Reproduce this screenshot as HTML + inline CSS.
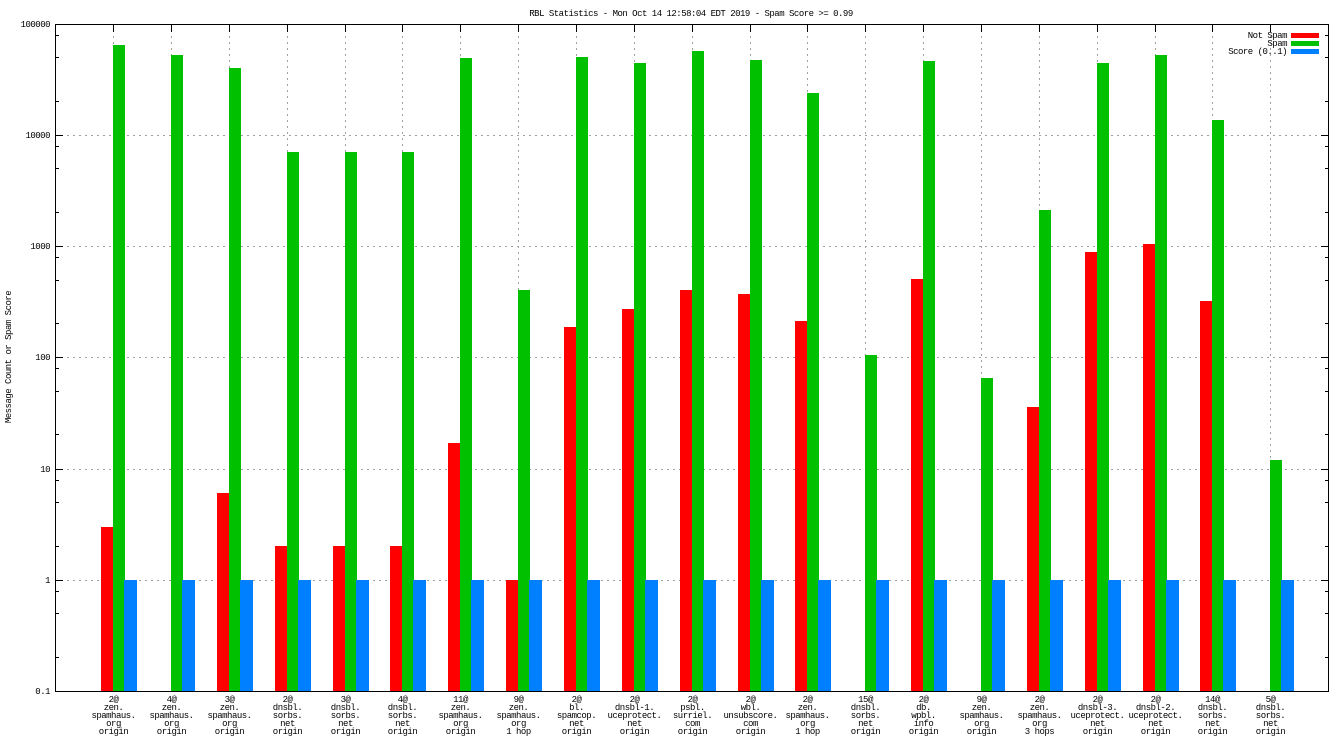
<!DOCTYPE html>
<html>
<head>
<meta charset="utf-8">
<style>
html,body{margin:0;padding:0;background:#fff;}
svg{display:block;}
text{font-family:"Liberation Mono",monospace;font-size:9px;font-weight:normal;letter-spacing:-0.5px;fill:#000;}
</style>
</head>
<body>
<svg width="1344" height="756" viewBox="0 0 1344 756" xmlns="http://www.w3.org/2000/svg">
<rect x="0" y="0" width="1344" height="756" fill="#fff"/>
<!-- title -->
<text x="691" y="16" text-anchor="middle">RBL Statistics - Mon Oct 14 12:58:04 EDT 2019 - Spam Score &gt;= 0.99</text>
<!-- y label -->
<text transform="translate(11,357) rotate(-90)" text-anchor="middle">Message Count or Spam Score</text>

<!-- grid -->
<g stroke="#a0a0a0" stroke-width="1" stroke-dasharray="2 4" fill="none">
<path d="M55 135.5H1328M55 246.5H1328M55 357.5H1328M55 469.5H1328M55 580.5H1328"/>
<path d="M113.5 24V691M171.5 24V691M229.5 24V691M287.5 24V691M345.5 24V691M402.5 24V691M460.5 24V691M518.5 24V691M576.5 24V691M634.5 24V691M692.5 24V691M750.5 24V691M807.5 24V691M865.5 24V691M923.5 24V691M981.5 24V691M1039.5 24V691M1097.5 24V691M1155.5 24V691M1212.5 24V691M1270.5 24V691"/>
</g>

<!-- bars -->
<g transform="translate(113,0)"><rect x="-12" y="527" width="12" height="164" fill="#ff0000"/><rect x="0" y="45" width="12" height="646" fill="#00c000"/><rect x="11" y="580" width="13" height="111" fill="#0080ff"/></g>
<g transform="translate(171,0)"><rect x="0" y="55" width="12" height="636" fill="#00c000"/><rect x="11" y="580" width="13" height="111" fill="#0080ff"/></g>
<g transform="translate(229,0)"><rect x="-12" y="493" width="12" height="198" fill="#ff0000"/><rect x="0" y="68" width="12" height="623" fill="#00c000"/><rect x="11" y="580" width="13" height="111" fill="#0080ff"/></g>
<g transform="translate(287,0)"><rect x="-12" y="546" width="12" height="145" fill="#ff0000"/><rect x="0" y="152" width="12" height="539" fill="#00c000"/><rect x="11" y="580" width="13" height="111" fill="#0080ff"/></g>
<g transform="translate(345,0)"><rect x="-12" y="546" width="12" height="145" fill="#ff0000"/><rect x="0" y="152" width="12" height="539" fill="#00c000"/><rect x="11" y="580" width="13" height="111" fill="#0080ff"/></g>
<g transform="translate(402,0)"><rect x="-12" y="546" width="12" height="145" fill="#ff0000"/><rect x="0" y="152" width="12" height="539" fill="#00c000"/><rect x="11" y="580" width="13" height="111" fill="#0080ff"/></g>
<g transform="translate(460,0)"><rect x="-12" y="443" width="12" height="248" fill="#ff0000"/><rect x="0" y="58" width="12" height="633" fill="#00c000"/><rect x="11" y="580" width="13" height="111" fill="#0080ff"/></g>
<g transform="translate(518,0)"><rect x="-12" y="580" width="12" height="111" fill="#ff0000"/><rect x="0" y="290" width="12" height="401" fill="#00c000"/><rect x="11" y="580" width="13" height="111" fill="#0080ff"/></g>
<g transform="translate(576,0)"><rect x="-12" y="327" width="12" height="364" fill="#ff0000"/><rect x="0" y="57" width="12" height="634" fill="#00c000"/><rect x="11" y="580" width="13" height="111" fill="#0080ff"/></g>
<g transform="translate(634,0)"><rect x="-12" y="309" width="12" height="382" fill="#ff0000"/><rect x="0" y="63" width="12" height="628" fill="#00c000"/><rect x="11" y="580" width="13" height="111" fill="#0080ff"/></g>
<g transform="translate(692,0)"><rect x="-12" y="290" width="12" height="401" fill="#ff0000"/><rect x="0" y="51" width="12" height="640" fill="#00c000"/><rect x="11" y="580" width="13" height="111" fill="#0080ff"/></g>
<g transform="translate(750,0)"><rect x="-12" y="294" width="12" height="397" fill="#ff0000"/><rect x="0" y="60" width="12" height="631" fill="#00c000"/><rect x="11" y="580" width="13" height="111" fill="#0080ff"/></g>
<g transform="translate(807,0)"><rect x="-12" y="321" width="12" height="370" fill="#ff0000"/><rect x="0" y="93" width="12" height="598" fill="#00c000"/><rect x="11" y="580" width="13" height="111" fill="#0080ff"/></g>
<g transform="translate(865,0)"><rect x="0" y="355" width="12" height="336" fill="#00c000"/><rect x="11" y="580" width="13" height="111" fill="#0080ff"/></g>
<g transform="translate(923,0)"><rect x="-12" y="279" width="12" height="412" fill="#ff0000"/><rect x="0" y="61" width="12" height="630" fill="#00c000"/><rect x="11" y="580" width="13" height="111" fill="#0080ff"/></g>
<g transform="translate(981,0)"><rect x="0" y="378" width="12" height="313" fill="#00c000"/><rect x="11" y="580" width="13" height="111" fill="#0080ff"/></g>
<g transform="translate(1039,0)"><rect x="-12" y="407" width="12" height="284" fill="#ff0000"/><rect x="0" y="210" width="12" height="481" fill="#00c000"/><rect x="11" y="580" width="13" height="111" fill="#0080ff"/></g>
<g transform="translate(1097,0)"><rect x="-12" y="252" width="12" height="439" fill="#ff0000"/><rect x="0" y="63" width="12" height="628" fill="#00c000"/><rect x="11" y="580" width="13" height="111" fill="#0080ff"/></g>
<g transform="translate(1155,0)"><rect x="-12" y="244" width="12" height="447" fill="#ff0000"/><rect x="0" y="55" width="12" height="636" fill="#00c000"/><rect x="11" y="580" width="13" height="111" fill="#0080ff"/></g>
<g transform="translate(1212,0)"><rect x="-12" y="301" width="12" height="390" fill="#ff0000"/><rect x="0" y="120" width="12" height="571" fill="#00c000"/><rect x="11" y="580" width="13" height="111" fill="#0080ff"/></g>
<g transform="translate(1270,0)"><rect x="0" y="460" width="12" height="231" fill="#00c000"/><rect x="11" y="580" width="13" height="111" fill="#0080ff"/></g>

<!-- axes border and ticks -->
<g stroke="#000" stroke-width="1" fill="none">
<rect x="55.5" y="24.5" width="1273" height="667"/>
<path d="M55 135.5h8M55 246.5h8M55 357.5h8M55 469.5h8M55 580.5h8"/>
<path d="M1329 135.5h-8M1329 246.5h-8M1329 357.5h-8M1329 469.5h-8M1329 580.5h-8"/>
<path d="M55 35.5h4M55 57.5h4M55 101.5h4M55 146.5h4M55 168.5h4M55 212.5h4M55 257.5h4M55 280.5h4M55 323.5h4M55 368.5h4M55 391.5h4M55 434.5h4M55 480.5h4M55 502.5h4M55 546.5h4M55 591.5h4M55 613.5h4M55 657.5h4"/>
<path d="M1329 35.5h-4M1329 57.5h-4M1329 101.5h-4M1329 146.5h-4M1329 168.5h-4M1329 212.5h-4M1329 257.5h-4M1329 280.5h-4M1329 323.5h-4M1329 368.5h-4M1329 391.5h-4M1329 434.5h-4M1329 480.5h-4M1329 502.5h-4M1329 546.5h-4M1329 591.5h-4M1329 613.5h-4M1329 657.5h-4"/>
<path d="M113.5 24v8M171.5 24v8M229.5 24v8M287.5 24v8M345.5 24v8M402.5 24v8M460.5 24v8M518.5 24v8M576.5 24v8M634.5 24v8M692.5 24v8M750.5 24v8M807.5 24v8M865.5 24v8M923.5 24v8M981.5 24v8M1039.5 24v8M1097.5 24v8M1155.5 24v8M1212.5 24v8M1270.5 24v8"/>
</g>

<!-- y tick labels -->
<g text-anchor="end">
<text x="50" y="27">100000</text>
<text x="50" y="138">10000</text>
<text x="50" y="249">1000</text>
<text x="50" y="360">100</text>
<text x="50" y="472">10</text>
<text x="50" y="583">1</text>
<text x="50" y="694">0.1</text>
</g>

<!-- legend -->
<g text-anchor="end">
<text x="1287" y="38">Not Spam</text>
<text x="1287" y="46">Spam</text>
<text x="1287" y="54">Score (0..1)</text>
</g>
<rect x="1291" y="33" width="28" height="5" fill="#ff0000"/>
<rect x="1291" y="41" width="28" height="5" fill="#00c000"/>
<rect x="1291" y="49" width="28" height="5" fill="#0080ff"/>

<!-- x labels -->
<g text-anchor="middle">
<text x="113.5" y="702"><tspan x="113.5" dy="0">2@</tspan><tspan x="113.5" dy="8">zen.</tspan><tspan x="113.5" dy="8">spamhaus.</tspan><tspan x="113.5" dy="8">org</tspan><tspan x="113.5" dy="8">origin</tspan></text>
<text x="171.5" y="702"><tspan x="171.5" dy="0">4@</tspan><tspan x="171.5" dy="8">zen.</tspan><tspan x="171.5" dy="8">spamhaus.</tspan><tspan x="171.5" dy="8">org</tspan><tspan x="171.5" dy="8">origin</tspan></text>
<text x="229.5" y="702"><tspan x="229.5" dy="0">3@</tspan><tspan x="229.5" dy="8">zen.</tspan><tspan x="229.5" dy="8">spamhaus.</tspan><tspan x="229.5" dy="8">org</tspan><tspan x="229.5" dy="8">origin</tspan></text>
<text x="287.5" y="702"><tspan x="287.5" dy="0">2@</tspan><tspan x="287.5" dy="8">dnsbl.</tspan><tspan x="287.5" dy="8">sorbs.</tspan><tspan x="287.5" dy="8">net</tspan><tspan x="287.5" dy="8">origin</tspan></text>
<text x="345.5" y="702"><tspan x="345.5" dy="0">3@</tspan><tspan x="345.5" dy="8">dnsbl.</tspan><tspan x="345.5" dy="8">sorbs.</tspan><tspan x="345.5" dy="8">net</tspan><tspan x="345.5" dy="8">origin</tspan></text>
<text x="402.5" y="702"><tspan x="402.5" dy="0">4@</tspan><tspan x="402.5" dy="8">dnsbl.</tspan><tspan x="402.5" dy="8">sorbs.</tspan><tspan x="402.5" dy="8">net</tspan><tspan x="402.5" dy="8">origin</tspan></text>
<text x="460.5" y="702"><tspan x="460.5" dy="0">11@</tspan><tspan x="460.5" dy="8">zen.</tspan><tspan x="460.5" dy="8">spamhaus.</tspan><tspan x="460.5" dy="8">org</tspan><tspan x="460.5" dy="8">origin</tspan></text>
<text x="518.5" y="702"><tspan x="518.5" dy="0">9@</tspan><tspan x="518.5" dy="8">zen.</tspan><tspan x="518.5" dy="8">spamhaus.</tspan><tspan x="518.5" dy="8">org</tspan><tspan x="518.5" dy="8">1 hop</tspan></text>
<text x="576.5" y="702"><tspan x="576.5" dy="0">2@</tspan><tspan x="576.5" dy="8">bl.</tspan><tspan x="576.5" dy="8">spamcop.</tspan><tspan x="576.5" dy="8">net</tspan><tspan x="576.5" dy="8">origin</tspan></text>
<text x="634.5" y="702"><tspan x="634.5" dy="0">2@</tspan><tspan x="634.5" dy="8">dnsbl-1.</tspan><tspan x="634.5" dy="8">uceprotect.</tspan><tspan x="634.5" dy="8">net</tspan><tspan x="634.5" dy="8">origin</tspan></text>
<text x="692.5" y="702"><tspan x="692.5" dy="0">2@</tspan><tspan x="692.5" dy="8">psbl.</tspan><tspan x="692.5" dy="8">surriel.</tspan><tspan x="692.5" dy="8">com</tspan><tspan x="692.5" dy="8">origin</tspan></text>
<text x="750.5" y="702"><tspan x="750.5" dy="0">2@</tspan><tspan x="750.5" dy="8">wbl.</tspan><tspan x="750.5" dy="8">unsubscore.</tspan><tspan x="750.5" dy="8">com</tspan><tspan x="750.5" dy="8">origin</tspan></text>
<text x="807.5" y="702"><tspan x="807.5" dy="0">2@</tspan><tspan x="807.5" dy="8">zen.</tspan><tspan x="807.5" dy="8">spamhaus.</tspan><tspan x="807.5" dy="8">org</tspan><tspan x="807.5" dy="8">1 hop</tspan></text>
<text x="865.5" y="702"><tspan x="865.5" dy="0">15@</tspan><tspan x="865.5" dy="8">dnsbl.</tspan><tspan x="865.5" dy="8">sorbs.</tspan><tspan x="865.5" dy="8">net</tspan><tspan x="865.5" dy="8">origin</tspan></text>
<text x="923.5" y="702"><tspan x="923.5" dy="0">2@</tspan><tspan x="923.5" dy="8">db.</tspan><tspan x="923.5" dy="8">wpbl.</tspan><tspan x="923.5" dy="8">info</tspan><tspan x="923.5" dy="8">origin</tspan></text>
<text x="981.5" y="702"><tspan x="981.5" dy="0">9@</tspan><tspan x="981.5" dy="8">zen.</tspan><tspan x="981.5" dy="8">spamhaus.</tspan><tspan x="981.5" dy="8">org</tspan><tspan x="981.5" dy="8">origin</tspan></text>
<text x="1039.5" y="702"><tspan x="1039.5" dy="0">2@</tspan><tspan x="1039.5" dy="8">zen.</tspan><tspan x="1039.5" dy="8">spamhaus.</tspan><tspan x="1039.5" dy="8">org</tspan><tspan x="1039.5" dy="8">3 hops</tspan></text>
<text x="1097.5" y="702"><tspan x="1097.5" dy="0">2@</tspan><tspan x="1097.5" dy="8">dnsbl-3.</tspan><tspan x="1097.5" dy="8">uceprotect.</tspan><tspan x="1097.5" dy="8">net</tspan><tspan x="1097.5" dy="8">origin</tspan></text>
<text x="1155.5" y="702"><tspan x="1155.5" dy="0">2@</tspan><tspan x="1155.5" dy="8">dnsbl-2.</tspan><tspan x="1155.5" dy="8">uceprotect.</tspan><tspan x="1155.5" dy="8">net</tspan><tspan x="1155.5" dy="8">origin</tspan></text>
<text x="1212.5" y="702"><tspan x="1212.5" dy="0">14@</tspan><tspan x="1212.5" dy="8">dnsbl.</tspan><tspan x="1212.5" dy="8">sorbs.</tspan><tspan x="1212.5" dy="8">net</tspan><tspan x="1212.5" dy="8">origin</tspan></text>
<text x="1270.5" y="702"><tspan x="1270.5" dy="0">5@</tspan><tspan x="1270.5" dy="8">dnsbl.</tspan><tspan x="1270.5" dy="8">sorbs.</tspan><tspan x="1270.5" dy="8">net</tspan><tspan x="1270.5" dy="8">origin</tspan></text>
</g>
</svg>
</body>
</html>
